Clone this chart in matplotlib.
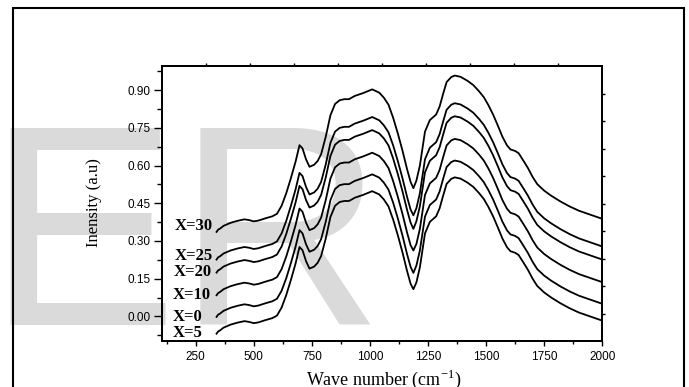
import numpy as np
import matplotlib
matplotlib.use("Agg")
import matplotlib.pyplot as plt
from matplotlib.patches import Rectangle
from matplotlib.ticker import MultipleLocator, FormatStrFormatter

# ---------------- data ----------------
wavenumber = [340, 347, 355, 370, 400, 430, 460, 480, 500, 520, 550, 580, 600, 620, 640,
              660, 680, 697, 710, 725, 740, 760, 775, 790, 810, 830, 850, 870, 890, 910,
              935, 970, 1010, 1040, 1060, 1080, 1100, 1120, 1140, 1160, 1175, 1187, 1200,
              1215, 1237, 1258, 1285, 1300, 1315, 1330, 1350, 1365, 1390, 1420, 1445, 1470,
              1490, 1510, 1530, 1550, 1570, 1590, 1605, 1625, 1640, 1660, 1680, 1700, 1720,
              1750, 1780, 1820, 1860, 1900, 1950, 2000]

x30 = [0.336, 0.345, 0.349, 0.360, 0.372, 0.380, 0.386, 0.383, 0.378, 0.381, 0.390, 0.398, 0.408, 0.440, 0.490,
       0.550, 0.615, 0.681, 0.668, 0.625, 0.595, 0.603, 0.618, 0.645, 0.715, 0.800, 0.845, 0.860, 0.864, 0.864,
       0.877, 0.888, 0.903, 0.890, 0.870, 0.842, 0.790, 0.728, 0.660, 0.585, 0.535, 0.510, 0.540,
       0.600, 0.735, 0.781, 0.803, 0.835, 0.885, 0.932, 0.952, 0.958, 0.953, 0.937, 0.920, 0.895,
       0.872, 0.840, 0.803, 0.760, 0.715, 0.680, 0.664, 0.658, 0.649, 0.620, 0.590, 0.555, 0.526,
       0.500, 0.480, 0.457, 0.437, 0.420, 0.404, 0.388]

x25 = [0.226, 0.235, 0.239, 0.250, 0.262, 0.270, 0.276, 0.273, 0.268, 0.271, 0.280, 0.288, 0.298, 0.330, 0.380,
       0.440, 0.505, 0.571, 0.558, 0.515, 0.485, 0.493, 0.508, 0.535, 0.605, 0.690, 0.735, 0.750, 0.754, 0.754,
       0.767, 0.778, 0.793, 0.780, 0.760, 0.732, 0.680, 0.618, 0.550, 0.475, 0.425, 0.402, 0.430,
       0.490, 0.625, 0.671, 0.693, 0.725, 0.775, 0.822, 0.842, 0.848, 0.843, 0.827, 0.810, 0.785,
       0.762, 0.730, 0.693, 0.650, 0.605, 0.570, 0.554, 0.548, 0.539, 0.510, 0.480, 0.445, 0.416,
       0.390, 0.370, 0.347, 0.327, 0.310, 0.294, 0.278]

x20 = [0.174, 0.183, 0.187, 0.198, 0.210, 0.218, 0.224, 0.221, 0.216, 0.219, 0.228, 0.236, 0.246, 0.278, 0.328,
       0.388, 0.453, 0.519, 0.506, 0.463, 0.433, 0.441, 0.456, 0.483, 0.553, 0.638, 0.683, 0.698, 0.702, 0.702,
       0.715, 0.726, 0.741, 0.728, 0.708, 0.680, 0.628, 0.566, 0.498, 0.423, 0.373, 0.348, 0.378,
       0.438, 0.573, 0.619, 0.641, 0.673, 0.723, 0.770, 0.790, 0.796, 0.791, 0.775, 0.758, 0.733,
       0.710, 0.678, 0.641, 0.598, 0.553, 0.518, 0.502, 0.496, 0.487, 0.458, 0.428, 0.393, 0.364,
       0.338, 0.318, 0.295, 0.275, 0.258, 0.242, 0.226]

x10 = [0.084, 0.093, 0.097, 0.108, 0.120, 0.128, 0.134, 0.131, 0.126, 0.129, 0.138, 0.146, 0.156, 0.188, 0.238,
       0.298, 0.363, 0.429, 0.416, 0.373, 0.343, 0.351, 0.366, 0.393, 0.463, 0.548, 0.593, 0.608, 0.612, 0.612,
       0.625, 0.636, 0.651, 0.638, 0.618, 0.590, 0.538, 0.476, 0.408, 0.333, 0.283, 0.262, 0.288,
       0.348, 0.483, 0.529, 0.551, 0.583, 0.633, 0.680, 0.700, 0.706, 0.701, 0.685, 0.668, 0.643,
       0.620, 0.588, 0.551, 0.508, 0.463, 0.428, 0.412, 0.406, 0.397, 0.368, 0.338, 0.303, 0.274,
       0.248, 0.228, 0.205, 0.185, 0.168, 0.152, 0.136]

x0 = [-0.002, 0.007, 0.011, 0.022, 0.034, 0.042, 0.048, 0.045, 0.040, 0.043, 0.052, 0.060, 0.070, 0.102, 0.152,
      0.212, 0.277, 0.343, 0.330, 0.287, 0.257, 0.265, 0.280, 0.307, 0.377, 0.462, 0.507, 0.522, 0.526, 0.526,
      0.539, 0.550, 0.565, 0.552, 0.532, 0.504, 0.452, 0.390, 0.322, 0.247, 0.197, 0.173, 0.202,
      0.262, 0.397, 0.443, 0.465, 0.497, 0.547, 0.594, 0.614, 0.620, 0.615, 0.599, 0.582, 0.557,
      0.534, 0.502, 0.465, 0.422, 0.377, 0.342, 0.326, 0.320, 0.311, 0.282, 0.252, 0.217, 0.188,
      0.162, 0.142, 0.119, 0.099, 0.082, 0.066, 0.050]

x5 = [-0.069, -0.060, -0.056, -0.045, -0.033, -0.025, -0.019, -0.022, -0.027, -0.024, -0.015, -0.007, 0.003, 0.035, 0.085,
      0.145, 0.210, 0.276, 0.263, 0.220, 0.190, 0.198, 0.213, 0.240, 0.310, 0.395, 0.440, 0.455, 0.459, 0.459,
      0.472, 0.483, 0.498, 0.485, 0.465, 0.437, 0.385, 0.323, 0.255, 0.180, 0.130, 0.108, 0.135,
      0.195, 0.330, 0.376, 0.398, 0.430, 0.480, 0.527, 0.547, 0.553, 0.548, 0.532, 0.515, 0.490,
      0.467, 0.435, 0.398, 0.355, 0.310, 0.275, 0.259, 0.253, 0.244, 0.215, 0.185, 0.150, 0.121,
      0.095, 0.075, 0.052, 0.032, 0.015, -0.001, -0.017]

series = [x30, x25, x20, x10, x0, x5]
series_labels = ["X=30", "X=25", "X=20", "X=10", "X=0", "X=5"]
label_x = [160, 160, 155, 150, 150, 152]
label_y = [0.342, 0.226, 0.159, 0.068, -0.017, -0.084]

x_ticks = [250, 500, 750, 1000, 1250, 1500, 1750, 2000]
y_ticks = [0.00, 0.15, 0.30, 0.45, 0.60, 0.75, 0.90]

# ---------------- figure ----------------
W, H = 689, 387
fig = plt.figure(figsize=(W / 100, H / 100), dpi=100)
fig.patch.set_facecolor("white")

# watermark
fig.text(-13.6 / W, 1 - 325 / H, "ER", fontsize=206, family="Liberation Sans",
         color="#dadada", ha="left", va="baseline", zorder=-5)

# outer frame
fig.patches.append(Rectangle((13 / W, -0.05), (684 - 13) / W, (1 - 7.5 / H) + 0.05,
                             transform=fig.transFigure, fill=False, lw=1.5,
                             ec="black", zorder=-4))

ax = fig.add_axes([161.7 / W, 1 - 341 / H, (602.3 - 161.7) / W, (341 - 66) / H])
ax.set_facecolor("none")

for ys in series:
    ax.plot(wavenumber, ys, color="black", lw=1.3, solid_joinstyle="round")

for t, lx, ly in zip(series_labels, label_x, label_y):
    ax.text(lx, ly, t, family="Liberation Serif", fontweight="bold", fontsize=12,
            ha="left", va="baseline")

ax.set_xlim(104, 2000)
ax.set_ylim(-0.098, 0.996)
ax.set_xticks(x_ticks)
ax.set_yticks(y_ticks)
ax.xaxis.set_minor_locator(MultipleLocator(125))
ax.yaxis.set_minor_locator(MultipleLocator(0.075))
ax.yaxis.set_major_formatter(FormatStrFormatter("%.2f"))

for s in ax.spines.values():
    s.set_linewidth(1.3)

ax.tick_params(axis="y", which="major", direction="out", length=5.5, width=1.0, pad=2.5,
               labelsize=8.5)
ax.tick_params(axis="y", which="minor", direction="out", length=3.5, width=1.0)
ax.tick_params(axis="x", which="major", direction="out", length=3.5, width=1.0, pad=3.5,
               labelsize=8.5)
ax.tick_params(axis="x", which="minor", direction="out", length=2.2, width=1.0)
for lab in ax.get_xticklabels() + ax.get_yticklabels():
    lab.set_family("Liberation Sans")

ax.set_xlabel("Wave number (cm$^{\\mathregular{-1}}$)", family="Liberation Serif", fontsize=13)
ax.xaxis.label.set_va("baseline")
ax.xaxis.set_label_coords(0.5034, -0.16)
ax.set_ylabel("Inensity (a.u)", family="Liberation Serif", fontsize=12)
ax.yaxis.set_label_coords(-0.1355, 0.505)

# secondary (top / right) tick marks without labels
top = ax.twiny()
top.set_xlim(0, 1)
top.set_xticks(np.arange(0.1, 0.95, 0.1))
top.tick_params(axis="x", direction="out", length=2, width=1.0, labeltop=False)
right = ax.twinx()
right.set_ylim(0, 1)
right.set_yticks(np.arange(0.1, 0.95, 0.1))
right.tick_params(axis="y", direction="out", length=2, width=1.0, labelright=False)
for a in (top, right):
    for s in a.spines.values():
        s.set_linewidth(1.3)

fig.savefig("out.png", dpi=100)
